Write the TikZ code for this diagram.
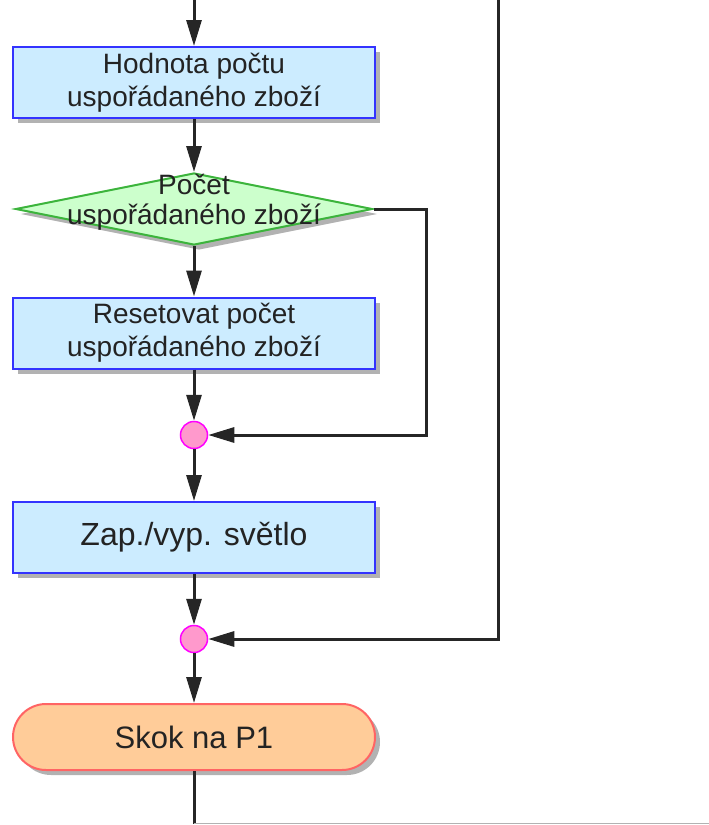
\documentclass[tikz,border=0pt]{standalone}
\usepackage{fontspec}
\setmainfont{Liberation Sans}
\usetikzlibrary{arrows.meta,shapes.geometric,shadows}
\definecolor{boxfill}{RGB}{204,236,255}
\definecolor{boxline}{RGB}{51,51,255}
\definecolor{decfill}{RGB}{204,255,204}
\definecolor{decline}{RGB}{60,180,60}
\definecolor{junfill}{RGB}{255,153,204}
\definecolor{junline}{RGB}{255,0,255}
\definecolor{termfill}{RGB}{255,204,153}
\definecolor{termline}{RGB}{255,100,100}
\definecolor{textcol}{RGB}{35,35,35}
\begin{document}
\begin{tikzpicture}[x=1pt,y=-1pt,
  conn/.style={line width=3pt, draw=black!85},
  arr/.style={conn, -{Triangle[length=26pt,width=15pt]}},
  shadowed/.style={drop shadow={shadow xshift=5pt, shadow yshift=-5pt, fill=black, opacity=0.3}},
  procbox/.style={rectangle, draw=boxline, fill=boxfill, line width=2pt, minimum width=362pt, minimum height=71pt, inner sep=0pt, align=center, text=textcol, font=\fontsize{28}{33}\selectfont, shadowed},
  decbox/.style={diamond, draw=decline, fill=decfill, line width=2pt, minimum width=357pt, minimum height=72pt, inner sep=0pt, shadowed},
  dectext/.style={align=center, text=textcol, font=\fontsize{28}{30}\selectfont, inner sep=0pt},
  junc/.style={circle, draw=junline, fill=junfill, line width=1.5pt, minimum size=27pt, inner sep=0pt},
  termbox/.style={rectangle, rounded corners=33pt, draw=termline, fill=termfill, line width=2pt, minimum width=362pt, minimum height=66pt, inner sep=0pt, text=textcol, font=\fontsize{31}{36}\selectfont, shadowed}]
\useasboundingbox (0,0) rectangle (709,825);

\node[procbox] (b1) at (194,82.5) {Hodnota počtu\\uspořádaného zboží};
\node[decbox] (d) at (194,209) {};
\node[dectext] (dtext) at (194,202) {Počet\\uspořádaného zboží};
\node[procbox] (b2) at (194,333) {Resetovat počet\\uspořádaného zboží};
\node[junc] (j1) at (194,435) {};
\node[procbox, font=\fontsize{32}{36}\selectfont] (b3) at (194,537.5) {Zap./vyp. světlo};
\node[junc] (j2) at (194,639) {};
\node[termbox] (t) at (194,737) {Skok na P1};

\coordinate (top1) at (194,0);
\coordinate (top2) at (498,0);
\coordinate (bot) at (194,823.5);
\coordinate (botr) at (709,823.5);

\draw[arr] (top1) -- (b1.north);
\draw[arr] (b1.south) -- (d.north);
\draw[arr] (d.south) -- (b2.north);
\draw[arr] (b2.south) -- (j1.north);
\draw[arr, line join=miter] (d.east) -- ++(53,0) |- (j1.east);
\draw[arr] (j1.south) -- (b3.north);
\draw[arr] (b3.south) -- (j2.north);
\draw[arr, line join=miter] (top2) |- (j2.east);
\draw[arr] (j2.south) -- (t.north);
\draw[conn] (t.south) -- (bot);
\draw[line width=1.2pt, black!30] (bot) -- (botr);
\end{tikzpicture}
\end{document}
